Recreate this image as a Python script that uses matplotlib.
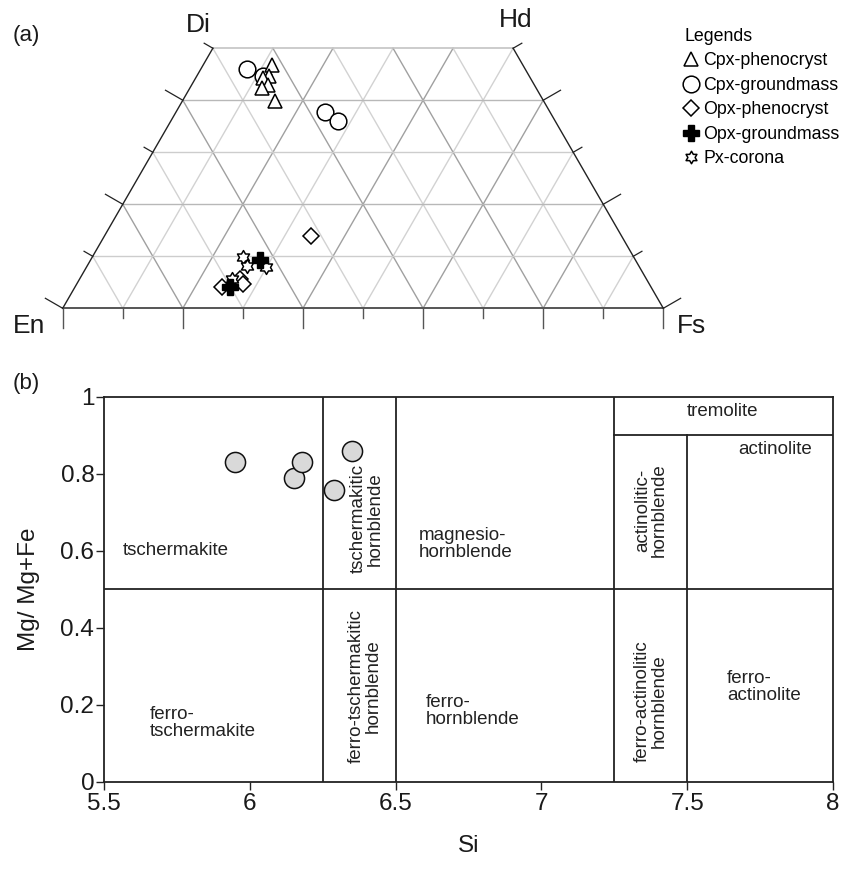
import numpy as np
import matplotlib
matplotlib.use("Agg")
import matplotlib.pyplot as plt
from matplotlib.lines import Line2D
from matplotlib.path import Path

plt.rcParams["font.family"] = ["Liberation Sans", "DejaVu Sans"]

# (a) pyroxene quadrilateral, compositions in mol% (Wo, En, Fs)
cpx_pheno_wo = [46.8, 44.7, 44.2, 42.9, 42.3, 39.9]
cpx_pheno_en = [41.8, 43.3, 44.5, 44.4, 45.6, 44.7]
cpx_pheno_fs = [11.4, 12.0, 11.3, 12.7, 12.1, 15.4]

cpx_ground_wo = [46.1, 44.6, 37.7, 36.0]
cpx_ground_en = [46.2, 44.3, 37.5, 36.1]
cpx_ground_fs = [7.7, 11.1, 24.8, 27.9]

opx_pheno_wo = [13.9, 4.1, 5.7, 4.7]
opx_pheno_en = [51.7, 71.4, 67.6, 67.6]
opx_pheno_fs = [34.4, 24.5, 26.7, 27.7]

opx_ground_wo = [9.2, 4.0]
opx_ground_en = [62.5, 70.1]
opx_ground_fs = [28.3, 25.9]

px_corona_wo = [9.8, 8.2, 8.0, 5.7]
px_corona_en = [65.0, 65.2, 62.1, 69.0]
px_corona_fs = [25.2, 26.6, 29.9, 25.3]

# (b) amphibole classification
amph_si = [5.95, 6.15, 6.18, 6.29, 6.35]
amph_mg = [0.83, 0.79, 0.83, 0.757, 0.858]

si_ticks = [5.5, 6, 6.5, 7, 7.5, 8]
mg_ticks = [0, 0.2, 0.4, 0.6, 0.8, 1]

H = np.sqrt(3) / 2
PX = 600.6  # pixels per unit of the ternary base


def tern(wo, en, fs):
    wo, en, fs = np.asarray(wo, float), np.asarray(en, float), np.asarray(fs, float)
    tot = wo + en + fs
    wo, fs = wo / tot, fs / tot
    return fs + wo / 2, wo * H


# hexagram (star of David) marker
ang = np.deg2rad(90 + 30 * np.arange(12))
rad = np.where(np.arange(12) % 2 == 0, 1.0, 1 / np.sqrt(3))
star_verts = np.column_stack([rad * np.cos(ang), rad * np.sin(ang)])
star_verts = np.vstack([star_verts, star_verts[:1]])
star = Path(star_verts, closed=True)

fig = plt.figure(figsize=(8.41, 8.73), dpi=100)

# ---------------- (a) ternary ----------------
ax = fig.add_axes([0, 1 - 340 / 873, 1, 340 / 873])
ax.set_xlim(-62.7 / PX, (841 - 62.7) / PX)
ax.set_ylim((308.3 - 340) / PX, 308.3 / PX)
ax.axis("off")

light, dark = "#d2d2d2", "#a0a0a0"
for i in range(1, 10):
    f = i / 10
    c = dark if i % 2 == 0 else light
    # constant Fs
    wo_end = min(0.5, 1 - f)
    ax.plot([f, f + wo_end / 2], [0, wo_end * H], color=c, lw=1.0, zorder=1)
    # constant En
    e = 1 - f
    wo_end = min(0.5, 1 - e)
    ax.plot([f, f - wo_end / 2], [0, wo_end * H], color=c, lw=1.0, zorder=1)
for i in range(1, 5):
    w = i / 10
    c = "#b8b8b8" if i % 2 == 0 else "#cdcdcd"
    ax.plot([w / 2, 1 - w / 2], [w * H, w * H], color=c, lw=1.0, zorder=1)

# outline
ax.plot([0.25, 0.75], [0.5 * H, 0.5 * H], color="#c4c4c4", lw=1.2, zorder=2)
ax.plot([0, 1], [0, 0], color="#555555", lw=1.4, zorder=2)
ax.plot([0, 0.25], [0, 0.5 * H], color="#222222", lw=1.0, zorder=2)
ax.plot([1, 0.75], [0, 0.5 * H], color="#222222", lw=1.0, zorder=2)

# ticks
for i in range(11):
    f = i / 10
    ln = (20 if i % 2 == 0 else 10) / PX
    ax.plot([f, f], [0, -ln], color="#555555", lw=1.0, zorder=2)
for i in range(6):
    w = i / 10
    ln = (20 if i % 2 == 0 else 10) / PX
    xl, yl = w / 2, w * H
    ax.plot([xl, xl - ln * H], [yl, yl + ln / 2], color="#222222", lw=0.9)
    xr = 1 - w / 2
    ax.plot([xr, xr + ln * H], [yl, yl + ln / 2], color="#222222", lw=0.9)

ax.text(0.247, 0.5 * H + 23 / PX, "Di", fontsize=19, ha="right", va="center", color="#1a1a1a")
ax.text(0.755, 0.5 * H + 28 / PX, "Hd", fontsize=19, ha="center", va="center", color="#1a1a1a")
ax.text(-34 / PX, -18 / PX, "En", fontsize=19, ha="center", va="center", color="#1a1a1a")
ax.text(1 + 28 / PX, -18 / PX, "Fs", fontsize=19, ha="center", va="center", color="#1a1a1a")
fig.text(13 / 841, 1 - 35 / 873, "(a)", fontsize=16, ha="left", va="center", color="#1a1a1a")

mk = dict(mfc="white", mec="black", ls="none", mew=1.1, zorder=5)
x, y = tern(cpx_ground_wo, cpx_ground_en, cpx_ground_fs)
ax.plot(x, y, marker="o", ms=12, **mk)
x, y = tern(cpx_pheno_wo, cpx_pheno_en, cpx_pheno_fs)
ax.plot(x, y, marker="^", ms=10, **mk)
x, y = tern(opx_pheno_wo, opx_pheno_en, opx_pheno_fs)
ax.plot(x, y, marker="D", ms=8, **mk)
x, y = tern(px_corona_wo, px_corona_en, px_corona_fs)
ax.plot(x, y, marker=star, ms=10, **mk)
x, y = tern(opx_ground_wo, opx_ground_en, opx_ground_fs)
ax.plot(x, y, marker="P", ms=11, mfc="black", mec="black", ls="none", zorder=6)

handles = [
    Line2D([], [], marker="^", ms=10, **mk),
    Line2D([], [], marker="o", ms=12, **mk),
    Line2D([], [], marker="D", ms=8, **mk),
    Line2D([], [], marker="P", ms=11, mfc="black", mec="black", ls="none"),
    Line2D([], [], marker=star, ms=9, **mk),
]
labels = ["Cpx-phenocryst", "Cpx-groundmass", "Opx-phenocryst", "Opx-groundmass", "Px-corona"]
leg = ax.legend(handles, labels, title="Legends", loc="upper left",
                bbox_to_anchor=(684 / 841, 1 - 28 / 873), bbox_transform=fig.transFigure,
                frameon=False, fontsize=12.8, title_fontsize=12.8, alignment="left",
                handlelength=0.8, handletextpad=0.3, borderpad=0, borderaxespad=0,
                labelspacing=0.42)

# ---------------- (b) amphibole ----------------
bx = fig.add_axes([104 / 841, 91 / 873, 729 / 841, 385.3 / 873])
bx.set_xlim(5.5, 8)
bx.set_ylim(0, 1)
bx.set_xticks(si_ticks)
bx.set_xticklabels(["5.5", "6", "6.5", "7", "7.5", "8"])
bx.set_yticks(mg_ticks)
bx.set_yticklabels(["0", "0.2", "0.4", "0.6", "0.8", "1"])
bx.tick_params(labelsize=17.5, length=6, width=1.0, color="#222222", labelcolor="#1a1a1a", pad=2)
bx.tick_params(axis="y", pad=1)
for s in bx.spines.values():
    s.set_linewidth(1.3)
    s.set_color("#222222")
bx.set_xlabel("Si", fontsize=17.5, color="#1a1a1a", labelpad=14)
bx.set_ylabel("Mg/ Mg+Fe", fontsize=17.5, color="#1a1a1a", labelpad=15)
fig.text(13 / 841, 1 - 384 / 873, "(b)", fontsize=16, ha="left", va="center", color="#1a1a1a")

bc = "#222222"
bx.plot([6.25, 6.25], [0, 1], color=bc, lw=1.3)
bx.plot([6.5, 6.5], [0, 1], color=bc, lw=1.3)
bx.plot([7.25, 7.25], [0, 1], color=bc, lw=1.3)
bx.plot([7.5, 7.5], [0, 0.9], color=bc, lw=1.3)
bx.plot([5.5, 8], [0.5, 0.5], color=bc, lw=1.3)
bx.plot([7.25, 8], [0.9, 0.9], color=bc, lw=1.3)

tc = "#222222"
fs = 13.5
bx.text(5.565, 0.60, "tschermakite", fontsize=fs, color=tc, va="center")
bx.text(5.657, 0.153, "ferro-\ntschermakite", fontsize=fs, color=tc, va="center", linespacing=1.0)
bx.text(6.40, 0.683, "tschermakitic\nhornblende", fontsize=fs, color=tc, va="center", ha="center",
        rotation=90, linespacing=1.0)
bx.text(6.395, 0.248, "ferro-tschermakitic\nhornblende", fontsize=fs, color=tc, va="center", ha="center",
        rotation=90, linespacing=1.0)
bx.text(6.58, 0.618, "magnesio-\nhornblende", fontsize=fs, color=tc, va="center", linespacing=1.0)
bx.text(6.605, 0.185, "ferro-\nhornblende", fontsize=fs, color=tc, va="center", linespacing=1.0)
bx.text(7.375, 0.706, "actinolitic-\nhornblende", fontsize=fs, color=tc, va="center", ha="center",
        rotation=90, linespacing=1.0)
bx.text(7.375, 0.211, "ferro-actinolitic\nhornblende", fontsize=fs, color=tc, va="center", ha="center",
        rotation=90, linespacing=1.0)
bx.text(7.622, 0.962, "tremolite", fontsize=fs, color=tc, va="center", ha="center")
bx.text(7.802, 0.862, "actinolite", fontsize=fs, color=tc, va="center", ha="center")
bx.text(7.636, 0.247, "ferro-\nactinolite", fontsize=fs, color=tc, va="center", linespacing=1.0)

bx.scatter(amph_si, amph_mg, s=210, facecolor="#d9d9d9", edgecolor="#111111", linewidth=1.1, zorder=5)

fig.savefig("out.png", dpi=100)
